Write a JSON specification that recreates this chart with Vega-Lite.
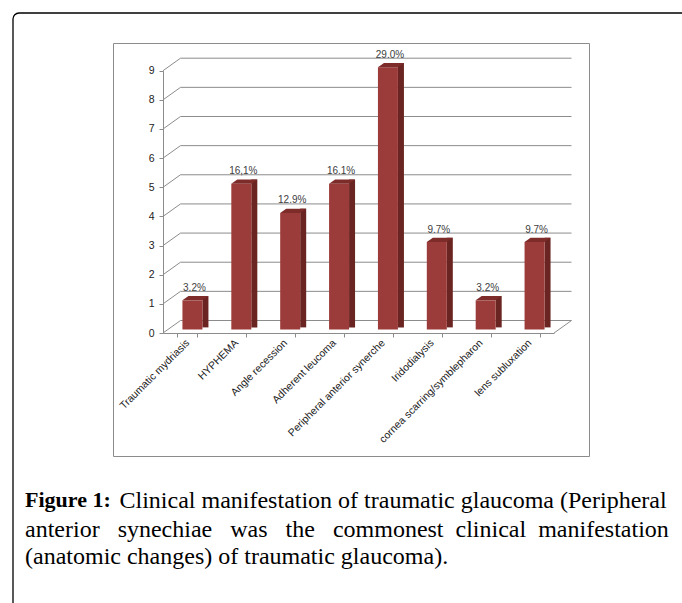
{
  "$schema": "https://vega.github.io/schema/vega-lite/v6.json",
  "width": 476,
  "height": 413,
  "autosize": {"type": "none"},
  "padding": {"left": 113, "top": 43, "right": 93, "bottom": 147},
  "background": "white",
  "config": {
    "view": {"stroke": "#8c8c8c", "strokeWidth": 1},
    "font": "Liberation Sans",
    "axisY": {
      "title": null,
      "values": [0, 1, 2, 3, 4, 5, 6, 7, 8, 9],
      "offset": -50,
      "grid": false,
      "tickSize": 4,
      "tickColor": "#8c8c8c",
      "domainColor": "#8c8c8c",
      "labelPadding": 5,
      "labelFontSize": 10.5,
      "labelColor": "#222222"
    }
  },
  "datasets": {
    "cats": [
      {"cat": "Traumatic mydriasis", "n": 1, "pct": "3.2%"},
      {"cat": "HYPHEMA", "n": 5, "pct": "16,1%"},
      {"cat": "Angle recession", "n": 4, "pct": "12.9%"},
      {"cat": "Adherent leucoma", "n": 5, "pct": "16.1%"},
      {"cat": "Peripheral anterior synerche", "n": 9, "pct": "29.0%"},
      {"cat": "Iridodialysis", "n": 3, "pct": "9.7%"},
      {"cat": "cornea scarring/symblepharon", "n": 1, "pct": "3.2%"},
      {"cat": "lens subluxation", "n": 3, "pct": "9.7%"}
    ],
    "ticks": [
      {"n": 0}, {"n": 1}, {"n": 2}, {"n": 3}, {"n": 4},
      {"n": 5}, {"n": 6}, {"n": 7}, {"n": 8}, {"n": 9}
    ]
  },
  "title": {
    "text": "Figure 1:",
    "subtitle": [
      "anterior\u00a0\u00a0 synechiae\u00a0\u00a0 was\u00a0\u00a0 the\u00a0\u00a0 commonest\u00a0 clinical\u00a0 manifestation",
      "(anatomic changes) of traumatic glaucoma)."
    ],
    "orient": "bottom",
    "anchor": "start",
    "frame": "group",
    "baseline": "alphabetic",
    "dx": -88,
    "offset": -137,
    "font": "Liberation Serif",
    "fontSize": 22,
    "fontWeight": "bold",
    "color": "black",
    "subtitleFont": "Liberation Serif",
    "subtitleFontSize": 24,
    "subtitleFontWeight": "normal",
    "subtitleColor": "black",
    "subtitleLineHeight": 27,
    "subtitlePadding": 8
  },
  "resolve": {"scale": {"x": "independent"}, "axis": {"x": "independent"}},
  "layer": [
    {
      "data": {"values": [{"frame": "outer"}]},
      "mark": {"type": "rect", "fill": "white", "fillOpacity": 0, "stroke": "black", "strokeWidth": 1.3, "cornerRadius": 6},
      "encoding": {
        "x": {"value": -100},
        "y": {"value": -30},
        "x2": {"value": 600},
        "y2": {"value": 600}
      }
    },
    {
      "data": {"name": "ticks"},
      "layer": [
        {
          "mark": {"type": "rule", "color": "#8c8c8c", "strokeWidth": 1, "x2Offset": 17.5, "y2Offset": -12.5},
          "encoding": {
            "x": {"datum": 0, "type": "quantitative", "scale": {"domain": [0, 1], "range": [50, 441], "zero": false, "nice": false}, "axis": null},
            "x2": {"datum": 0},
            "y": {"field": "n", "type": "quantitative", "scale": {"domain": [0, 9], "range": [290, 27.7], "zero": false, "nice": false}},
            "y2": {"field": "n"}
          }
        },
        {
          "mark": {"type": "rule", "color": "#8c8c8c", "strokeWidth": 1, "xOffset": 17.5, "x2Offset": 17.5, "yOffset": -12.5},
          "encoding": {
            "x": {"datum": 0, "type": "quantitative", "scale": {"domain": [0, 1], "range": [50, 441], "zero": false, "nice": false}, "axis": null},
            "x2": {"datum": 1},
            "y": {"field": "n", "type": "quantitative", "scale": {"domain": [0, 9], "range": [290, 27.7], "zero": false, "nice": false}}
          }
        },
        {
          "transform": [{"filter": "datum.n == 0"}],
          "mark": {"type": "rule", "color": "#8c8c8c", "strokeWidth": 1, "x2Offset": 17.5, "y2Offset": -12.5},
          "encoding": {
            "x": {"datum": 1, "type": "quantitative", "scale": {"domain": [0, 1], "range": [50, 441], "zero": false, "nice": false}, "axis": null},
            "x2": {"datum": 1},
            "y": {"field": "n", "type": "quantitative", "scale": {"domain": [0, 9], "range": [290, 27.7], "zero": false, "nice": false}},
            "y2": {"field": "n"}
          }
        }
      ]
    },
    {
      "data": {"name": "cats"},
      "encoding": {
        "x": {
          "field": "cat",
          "type": "nominal",
          "sort": null,
          "scale": {"type": "band", "range": [50, 441], "paddingInner": 0.59, "paddingOuter": 0.295},
          "axis": {
            "title": "Clinical manifestation of traumatic glaucoma (Peripheral",
            "titleFont": "Liberation Serif",
            "titleFontSize": 24,
            "titleFontWeight": "normal",
            "titleColor": "black",
            "titleAnchor": "start",
            "titleAlign": "left",
            "titleBaseline": "alphabetic",
            "titleX": 6,
            "titleY": 174,
            "titleLimit": 1000,
            "offset": -123,
            "tickBand": "extent",
            "tickSize": 4,
            "tickColor": "#8c8c8c",
            "domainColor": "#8c8c8c",
            "labelAngle": -45,
            "labelAlign": "right",
            "labelBaseline": "middle",
            "labelPadding": 4,
            "labelFontSize": 10.5,
            "labelColor": "#222222",
            "labelOverlap": false,
            "labelBound": false,
            "labelLimit": 0
          }
        },
        "y": {
          "field": "n",
          "type": "quantitative",
          "scale": {"domain": [0, 9], "range": [290, 27.7], "zero": false, "nice": false}
        }
      },
      "layer": [
        {
          "mark": {"type": "bar", "width": 6, "xOffset": 18, "yOffset": -7.8, "y2Offset": -5.6, "color": "#6a2422"},
          "encoding": {"y2": {"datum": 0}}
        },
        {
          "mark": {"type": "bar", "width": 20, "xOffset": 5, "yOffset": -3.5, "y2Offset": -3.5, "color": "#9c3c3a"},
          "encoding": {"y2": {"datum": 0}}
        },
        {
          "mark": {"type": "point", "shape": "M-1,0.165L0.538,0.165L1,-0.165L-0.538,-0.165Z", "size": 676, "filled": true, "opacity": 1, "strokeWidth": 0, "color": "#7e2c2a", "xOffset": 8, "yOffset": -5.65},
          "encoding": {}
        },
        {
          "mark": {"type": "text", "fontSize": 10, "color": "#404040", "baseline": "middle", "align": "center", "xOffset": 7, "yOffset": -16},
          "encoding": {"text": {"field": "pct"}}
        }
      ]
    }
  ]
}
